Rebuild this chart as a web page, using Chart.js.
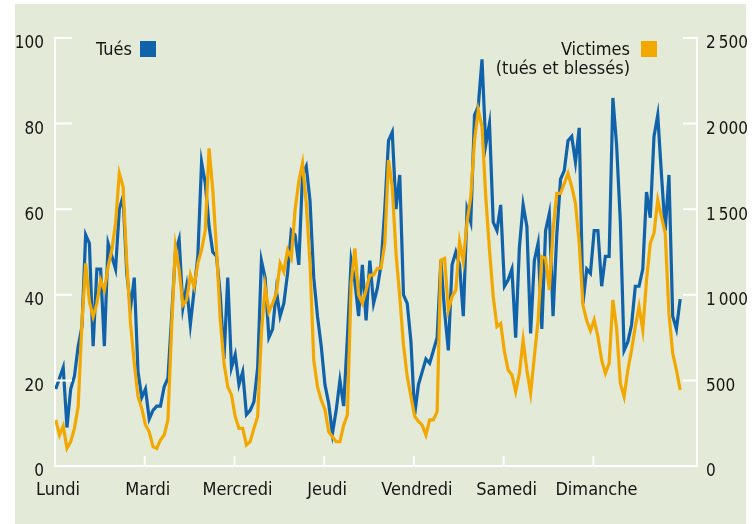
<!DOCTYPE html>
<html>
<head>
<meta charset="utf-8">
<script src="https://cdn.jsdelivr.net/npm/chart.js@4"></script>
<style>
  body { margin: 0; background: #fff; }
  #wrap { position: relative; width: 754px; height: 524px; }
  #panel { position: absolute; left: 15px; top: 4px; width: 731px; height: 520px; background: #e3ead7; }
  #chart { position: absolute; left: 0; top: 0; }
  .lg { position: absolute; font-family: "Liberation Sans Narrow", "DejaVu Sans Condensed", sans-serif; font-size: 18px; color: #151515; line-height: 19px; }
  .sq { position: absolute; width: 16px; height: 16px; }
</style>
</head>
<body>
<div id="wrap">
  <div id="panel"></div>
  <canvas id="chart" width="754" height="524"></canvas>
  <div class="lg" style="left:96px; top:39px;">Tués</div>
  <div class="sq" style="left:140px; top:41px; background:#1062ab;"></div>
  <div class="lg" style="right:124px; top:39px; text-align:right;">Victimes<br>(tués et blessés)</div>
  <div class="sq" style="left:641px; top:41px; background:#f2a800;"></div>
</div>
<script>
// Day names for the x axis (one tick every 24 hours)
const days = ["Lundi", "Mardi", "Mercredi", "Jeudi", "Vendredi", "Samedi", "Dimanche"];

// Tués, hour by hour, Monday 0h -> Sunday 23h (left axis)
const tues = [
  18, 20.5, 23, 9, 18, 21, 28, 32.5, 54, 52, 28, 46, 46, 28, 52, 49, 46, 60, 63, 45, 37, 44, 22, 16,
  18, 11, 13, 14, 14, 18.5, 20.5, 35, 50, 53, 37, 42, 33, 41, 49, 71, 66, 56, 50, 49, 40, 25, 44, 23,
  26, 19, 22, 12, 13, 15, 23, 48, 44, 30, 32, 41, 35, 38, 45, 55, 54, 47, 68, 70, 62, 44, 35, 28,
  19, 14.6, 7.6, 13, 20, 14, 30, 48, 43, 35, 47, 34, 48, 38, 41.5, 47, 60, 76, 78, 60, 68, 40, 38, 29,
  12, 19, 22, 25, 24, 27, 30, 48, 36, 27, 47, 50, 47, 35, 60, 57, 82, 84, 95, 75, 80, 57, 55, 61,
  42, 43.5, 46, 30, 51, 61, 56, 31, 48, 52, 32, 55, 59, 35, 54, 67, 69, 76, 77, 71, 79, 38, 46, 45,
  55, 55, 42, 49, 49, 86, 75, 57, 27, 29, 33, 42, 42, 46, 64, 58, 77, 82, 68, 55, 68, 35, 32, 39
];

// Victimes (tués et blessés), hour by hour (right axis)
const victimes = [
  269, 181, 234, 103, 142, 220, 347, 833, 1184, 960, 872, 950, 1086, 1028, 1164, 1262, 1417, 1709, 1632, 1184, 833, 600, 405, 337,
  240, 200, 113, 103, 152, 181, 269, 814, 1281, 1145, 940, 970, 1116, 1047, 1184, 1262, 1378, 1855, 1612, 1262, 853, 600, 463, 415,
  288, 220, 220, 123, 142, 220, 288, 775, 1047, 901, 950, 1008, 1184, 1135, 1262, 1213, 1495, 1661, 1768, 1534, 1184, 619, 463, 385,
  330, 200, 171, 142, 142, 239, 298, 1067, 1271, 999, 950, 1028, 1115, 1115, 1155, 1155, 1300, 1787, 1632, 1242, 989, 707, 522, 405,
  290, 260, 239, 181, 269, 269, 317, 1203, 1213, 911, 989, 1028, 1310, 1193, 1427, 1573, 1904, 2079, 1982, 1573, 1262, 989, 814, 833,
  668, 561, 532, 434, 541, 736, 561, 425, 639, 850, 1223, 1213, 1028, 1378, 1593, 1593, 1650, 1709, 1632, 1534, 1300, 940, 850, 790,
  853, 755, 619, 541, 600, 970, 804, 483, 405, 561, 678, 814, 931, 794, 1086, 1300, 1359, 1554, 1456, 1359, 892, 658, 561, 444
];

const leftTicks = [0, 20, 40, 60, 80, 100];
const rightTicks = [0, 500, 1000, 1500, 2000, 2500];

const hourOffset = 0.2;
const toPoints = arr => arr.map((v, i) => ({ x: i + hourOffset, y: v }));

const FONT = "'Liberation Sans Narrow', 'DejaVu Sans Condensed', sans-serif";
const INK = "#151515";

// white tick marks pointing into the plot
const innerTicks = {
  id: "innerTicks",
  afterDraw(chart) {
    const { ctx, chartArea, scales } = chart;
    ctx.save();
    ctx.strokeStyle = "#fff";
    ctx.lineWidth = 2;
    ctx.beginPath();
    leftTicks.forEach(v => {
      const y = scales.y.getPixelForValue(v);
      ctx.moveTo(chartArea.left, y);
      ctx.lineTo(chartArea.left + 17, y);
    });
    rightTicks.forEach(v => {
      const y = scales.y1.getPixelForValue(v);
      ctx.moveTo(chartArea.right - 14, y);
      ctx.lineTo(chartArea.right, y);
    });
    for (let d = 1; d < days.length; d++) {
      const x = scales.x.getPixelForValue(d * 24);
      ctx.moveTo(x, chartArea.bottom);
      ctx.lineTo(x, chartArea.bottom - 10);
    }
    ctx.stroke();
    ctx.restore();
  }
};

new Chart(document.getElementById("chart"), {
  type: "line",
  data: {
    datasets: [
      {
        label: "Victimes (tués et blessés)",
        data: toPoints(victimes),
        yAxisID: "y1",
        borderColor: "#f2a800",
        borderWidth: 3.2,
        pointRadius: 0,
        tension: 0
      },
      {
        label: "Tués",
        data: toPoints(tues),
        yAxisID: "y",
        borderColor: "#1062ab",
        borderWidth: 3.2,
        pointRadius: 0,
        tension: 0
      }
    ]
  },
  plugins: [innerTicks],
  options: {
    responsive: false,
    animation: false,
    layout: { padding: { top: 38, left: 0, right: 0, bottom: 0 } },
    plugins: { legend: { display: false }, tooltip: { enabled: false } },
    scales: {
      x: {
        type: "linear",
        min: 0,
        max: 171.7,
        afterFit: s => { s.height = 58; },
        grid: { display: false, drawTicks: false },
        border: { display: true, color: "#fff", width: 2 },
        ticks: {
          stepSize: 24,
          padding: 14,
          labelOffset: 3,
          maxRotation: 0,
          autoSkip: false,
          color: INK,
          font: { family: FONT, size: 18 },
          callback: v => {
            const d = v / 24;
            return Number.isInteger(d) && d < days.length ? days[d] : null;
          }
        }
      },
      y: {
        position: "left",
        min: 0,
        max: 100,
        afterFit: s => { s.width = 55; },
        grid: { display: false, drawTicks: false },
        border: { display: true, color: "#fff", width: 2 },
        afterBuildTicks: s => { s.ticks = leftTicks.map(v => ({ value: v })); },
        ticks: {
          padding: 11,
          labelOffset: 6,
          color: INK,
          font: { family: FONT, size: 17 }
        }
      },
      y1: {
        position: "right",
        min: 0,
        max: 2500,
        afterFit: s => { s.width = 57; },
        grid: { display: false, drawTicks: false },
        border: { display: true, color: "#fff", width: 2 },
        afterBuildTicks: s => { s.ticks = rightTicks.map(v => ({ value: v })); },
        ticks: {
          padding: 9,
          labelOffset: 6,
          color: INK,
          font: { family: FONT, size: 17 },
          callback: v => v >= 1000 ? Math.floor(v / 1000) + "\u2009" + String(v % 1000).padStart(3, "0") : String(v)
        }
      }
    }
  }
});
</script>
</body>
</html>
